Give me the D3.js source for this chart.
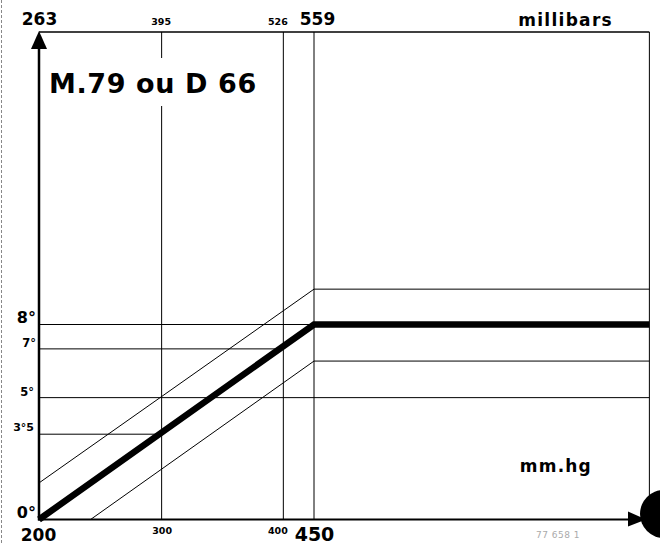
<!DOCTYPE html>
<html><head><meta charset="utf-8">
<script src="https://cdn.jsdelivr.net/npm/d3@7"></script>
<style>
html,body{margin:0;padding:0;background:#fff;}
svg{display:block;font-family:"DejaVu Sans",sans-serif;font-weight:bold;}
</style></head>
<body><svg id="c" width="660" height="544"></svg>
<script>
// ---- data ----
const mbTicks = [263, 395, 526, 559];          // millibars (top axis)
const mmTicks = [200, 300, 400, 450];          // mm.hg (bottom axis, same positions)
const degTicks = [0, 3.5, 5, 7, 8];            // degrees (left axis)
const degLabels = ["0°", "3°5", "5°", "7°", "8°"];
const xDomain = [263, 920];                    // millibars
const yDomain = [0, 20];                       // degrees
const mainX = [263, 559, 920];
const mainY = [0, 8, 8];
const upperX = [263, 559, 920];
const upperY = [1.5, 9.45, 9.45];
const lowerX = [318.5, 559, 920];
const lowerY = [0, 6.5, 6.5];
const hLineVals = [8, 7, 5, 3.5];
const hLineEnds = [559, 522, 920, 395];
const vLineVals = [395, 526, 559];

// ---- scales ----
const x = d3.scaleLinear().domain([263, 559]).range([39, 314]);
const y = d3.scaleLinear().domain(yDomain).range([519.5, 32]);
const svg = d3.select("#c");
const X0 = x(xDomain[0]), X1 = x(xDomain[1]);
const Y0 = y(yDomain[0]), Y1 = y(yDomain[1]);

// page edge dotted line
svg.append("line").attr("x1",1.5).attr("x2",1.5).attr("y1",0).attr("y2",544)
  .attr("stroke","#888").attr("stroke-width",1).attr("stroke-dasharray","3,2");

// vertical grid lines
svg.selectAll(".vl").data(vLineVals).enter().append("line")
  .attr("x1",d=>x(d)).attr("x2",d=>x(d)).attr("y1",Y1).attr("y2",Y0)
  .attr("stroke","#000").attr("stroke-width",1);

// horizontal grid lines
svg.selectAll(".hl").data(hLineVals).enter().append("line")
  .attr("x1",X0).attr("x2",(d,i)=>x(hLineEnds[i])).attr("y1",d=>y(d)).attr("y2",d=>y(d))
  .attr("stroke","#000").attr("stroke-width",1);

// band lines and main line
const line = d3.line().x(d=>x(d[0])).y(d=>y(d[1]));
svg.append("path").datum(upperX.map((v,i)=>[v,upperY[i]])).attr("d",line)
  .attr("fill","none").attr("stroke","#000").attr("stroke-width",1);
svg.append("path").datum(lowerX.map((v,i)=>[v,lowerY[i]])).attr("d",line)
  .attr("fill","none").attr("stroke","#000").attr("stroke-width",1);
svg.append("path").datum(mainX.map((v,i)=>[v,mainY[i]])).attr("d",line)
  .attr("fill","none").attr("stroke","#000").attr("stroke-width",6.5).attr("stroke-linejoin","miter");

// frame: top line, right border
svg.append("line").attr("x1",X0).attr("x2",X1).attr("y1",Y1).attr("y2",Y1)
  .attr("stroke","#000").attr("stroke-width",1.3);
svg.append("line").attr("x1",X1).attr("x2",X1).attr("y1",Y1).attr("y2",Y0)
  .attr("stroke","#000").attr("stroke-width",1);

// title with white background
svg.append("rect").attr("x",45).attr("y",58).attr("width",220).attr("height",48).attr("fill","#fff");
svg.append("text").attr("x",49).attr("y",93).attr("font-size",27).attr("letter-spacing",0.6)
  .text("M.79 ou D 66");

// top axis (millibars)
const topAx = svg.append("g").attr("transform",`translate(0,${Y1})`)
  .call(d3.axisTop(x).tickValues(mbTicks).tickSize(0).tickPadding(7).tickFormat(d3.format("d")));
topAx.select(".domain").remove();
topAx.selectAll("text").attr("fill","#000").attr("font-family","DejaVu Sans").attr("font-weight","bold")
  .attr("font-size",d=>(d===263||d===559)?17:9.5)
  .attr("dx",d=>d===526?-6:(d===559?3:(d===395?-1:0)));
svg.append("text").attr("x",613).attr("y",26).attr("text-anchor","end")
  .attr("font-size",17).attr("letter-spacing",1.3).text("millibars");

// bottom axis (mm.hg)
const botAx = svg.append("g").attr("transform",`translate(0,${Y0})`)
  .call(d3.axisBottom(x).tickValues(mbTicks).tickSize(0).tickPadding(0)
    .tickFormat((d,i)=>mmTicks[i]));
botAx.select(".domain").remove();
botAx.selectAll("text").attr("fill","#000").attr("font-family","DejaVu Sans").attr("font-weight","bold")
  .attr("dy",0)
  .attr("y",(d,i)=>(i===0||i===3)?21:14.5)
  .attr("font-size",(d,i)=>i===0?17:(i===3?19:9.5))
  .attr("dx",(d,i)=>i===2?-6:(i===0?-1:0));
svg.append("text").attr("x",592).attr("y",472).attr("text-anchor","end")
  .attr("font-size",17).attr("letter-spacing",1.2).text("mm.hg");
svg.append("text").attr("x",536).attr("y",538).attr("font-size",9).attr("font-weight","normal")
  .attr("fill","#aaa").attr("letter-spacing",0.5).text("77 658  1");

// left axis (degrees)
const leftAx = svg.append("g").attr("transform",`translate(${X0},0)`)
  .call(d3.axisLeft(y).tickValues(degTicks).tickSize(0).tickPadding(3)
    .tickFormat((d,i)=>degLabels[i]));
leftAx.select(".domain").remove();
leftAx.selectAll("text").attr("fill","#000").attr("font-family","DejaVu Sans").attr("font-weight","bold")
  .attr("dy",(d)=>d===3.5?-4:-2.5)
  .attr("font-size",d=>(d===0||d===8)?16:(d===3.5?11:11.5))
  .attr("dx",d=>(d===3.5||d===5)?-2:0);

// axes lines
svg.append("line").attr("x1",X0).attr("x2",X0).attr("y1",Y0+1).attr("y2",Y1+12)
  .attr("stroke","#000").attr("stroke-width",2.5);
svg.append("line").attr("x1",X0-1).attr("x2",640).attr("y1",Y0).attr("y2",Y0)
  .attr("stroke","#000").attr("stroke-width",2);
// arrow heads
svg.append("path").attr("d",`M${X0},${Y1-1}L${X0-8},${Y1+17}L${X0+8},${Y1+17}Z`).attr("fill","#000");
svg.append("path").attr("d",`M628,${Y0-8}L628,${Y0+7}L646,${Y0}Z`).attr("fill","#000");
svg.append("circle").attr("cx",664).attr("cy",514).attr("r",24).attr("fill","#000");
</script></body></html>
